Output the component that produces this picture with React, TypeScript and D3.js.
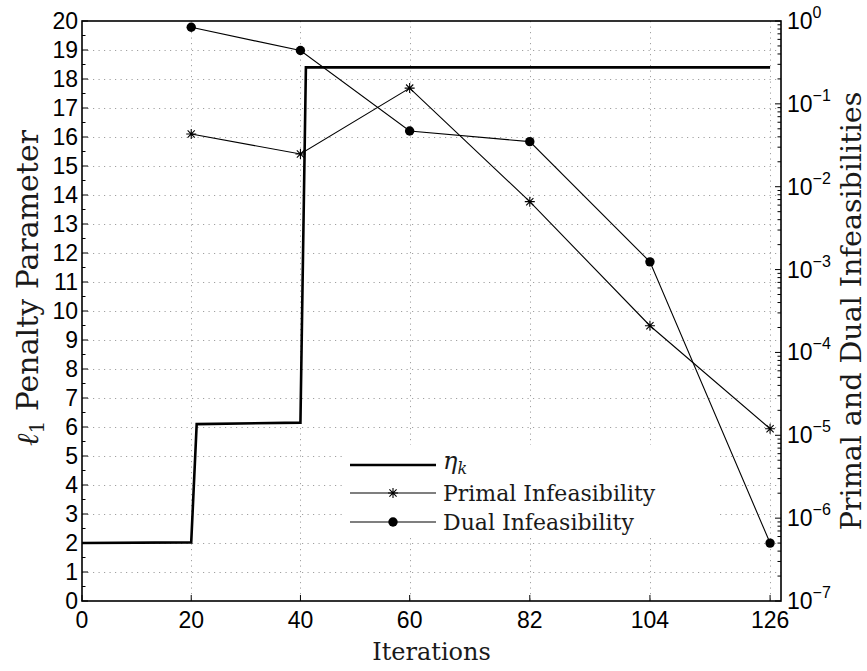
import React, { useEffect, useRef } from "react";
import * as d3 from "d3";

// x axis
const iterTicks = [0, 20, 40, 60, 82, 104, 126];
// left axis ticks
const penaltyTicks = [0, 1, 2, 3, 4, 5, 6, 7, 8, 9, 10, 11, 12, 13, 14, 15, 16, 17, 18, 19, 20];
// right axis decades (exponents)
const infeasExponents = [0, -1, -2, -3, -4, -5, -6, -7];

// eta_k step series
const etaIter = [0, 20, 21, 40, 41, 126];
const etaValue = [2.0, 2.02, 6.1, 6.15, 18.4, 18.4];

// infeasibilities (log axis)
const feasIter = [20, 40, 60, 82, 104, 126];
const primalInf = [0.0433, 0.0248, 0.155, 0.0066, 0.00021, 0.000012];
const dualInf = [0.84, 0.44, 0.047, 0.035, 0.00124, 0.0000005];

const App = () => {
  const svgRef = useRef<SVGSVGElement>(null);

  useEffect(() => {
    const width = 867, height = 671;
    const left = 82, right = 781, top = 21, bottom = 601;
    const tickFont = "'Liberation Sans', Arial, sans-serif";
    const labelFont = "'DejaVu Serif', serif";

    const svg = d3.select(svgRef.current)
      .attr("width", width)
      .attr("height", height)
      .style("background", "#fff");
    svg.selectAll("*").remove();

    const x = d3.scaleLinear().domain([0, 128]).range([left, right]);
    const yL = d3.scaleLinear().domain([0, 20]).range([bottom, top]);
    const yR = d3.scaleLog().domain([1e-7, 1]).range([bottom, top]);

    // grid
    const grid = svg.append("g")
      .attr("stroke", "#a0a0a0")
      .attr("stroke-width", 1)
      .attr("stroke-dasharray", "1.2,4.3");
    grid.selectAll("line.h")
      .data(penaltyTicks.filter(d => d > 0 && d < 20))
      .enter().append("line")
      .attr("x1", left).attr("x2", right)
      .attr("y1", d => Math.round(yL(d)) + 0.5)
      .attr("y2", d => Math.round(yL(d)) + 0.5);
    grid.selectAll("line.v")
      .data(iterTicks.filter(d => d > 0))
      .enter().append("line")
      .attr("y1", top).attr("y2", bottom)
      .attr("x1", d => Math.round(x(d)) + 0.5)
      .attr("x2", d => Math.round(x(d)) + 0.5);

    // eta line
    const eta = etaIter.map((d, i) => [d, etaValue[i]]);
    svg.append("path")
      .datum(eta)
      .attr("fill", "none")
      .attr("stroke", "#000")
      .attr("stroke-width", 2.6)
      .attr("d", d3.line<number[]>().x(d => x(d[0])).y(d => yL(d[1])));

    const primal = feasIter.map((d, i) => [d, primalInf[i]]);
    const dual = feasIter.map((d, i) => [d, dualInf[i]]);
    const logLine = d3.line<number[]>().x(d => x(d[0])).y(d => yR(d[1]));

    svg.append("path").datum(primal)
      .attr("fill", "none").attr("stroke", "#000").attr("stroke-width", 1.1)
      .attr("d", logLine);
    svg.append("path").datum(dual)
      .attr("fill", "none").attr("stroke", "#000").attr("stroke-width", 1.1)
      .attr("d", logLine);

    const star = (g, cx, cy, r) => {
      const a = r * 0.72;
      const p = `M${cx - r},${cy}H${cx + r}M${cx},${cy - r}V${cy + r}` +
        `M${cx - a},${cy - a}L${cx + a},${cy + a}M${cx - a},${cy + a}L${cx + a},${cy - a}`;
      g.append("path").attr("d", p).attr("stroke", "#000").attr("stroke-width", 1.1).attr("fill", "none");
    };

    primal.forEach(d => star(svg, x(d[0]), yR(d[1]), 5));
    svg.selectAll("circle.dual")
      .data(dual)
      .enter().append("circle")
      .attr("cx", d => x(d[0]))
      .attr("cy", d => yR(d[1]))
      .attr("r", 4.7)
      .attr("fill", "#000");

    // axes box
    const axisG = svg.append("g").attr("stroke", "#000").attr("stroke-width", 1.6);
    axisG.append("rect")
      .attr("x", left).attr("y", top)
      .attr("width", right - left).attr("height", bottom - top)
      .attr("fill", "none");

    // left ticks (inward) + minor
    penaltyTicks.forEach(d => {
      axisG.append("line").attr("x1", left).attr("x2", left + 6)
        .attr("y1", yL(d)).attr("y2", yL(d)).attr("stroke-width", 1);
      if (d < 20) {
        axisG.append("line").attr("x1", left).attr("x2", left + 3.5)
          .attr("y1", yL(d + 0.5)).attr("y2", yL(d + 0.5)).attr("stroke-width", 1);
      }
    });

    // bottom ticks
    iterTicks.forEach(d => {
      axisG.append("line").attr("x1", x(d)).attr("x2", x(d))
        .attr("y1", bottom).attr("y2", bottom - 6).attr("stroke-width", 1);
    });

    // right log ticks
    infeasExponents.forEach(e => {
      const v = Math.pow(10, e);
      axisG.append("line").attr("x1", right).attr("x2", right - 6)
        .attr("y1", yR(v)).attr("y2", yR(v)).attr("stroke-width", 1);
      if (e > -7) {
        [2, 3, 4, 5, 6, 7, 8, 9].forEach(m => {
          const mv = v * m / 10;
          axisG.append("line").attr("x1", right).attr("x2", right - 3.5)
            .attr("y1", yR(mv)).attr("y2", yR(mv)).attr("stroke-width", 1);
        });
      }
    });

    // tick labels
    svg.append("g").selectAll("text")
      .data(penaltyTicks)
      .enter().append("text")
      .attr("x", left - 4)
      .attr("y", d => yL(d))
      .attr("dy", "0.36em")
      .attr("text-anchor", "end")
      .attr("font-family", tickFont)
      .attr("font-size", 23)
      .text(d => d);

    svg.append("g").selectAll("text")
      .data(iterTicks)
      .enter().append("text")
      .attr("x", d => x(d))
      .attr("y", 628)
      .attr("text-anchor", "middle")
      .attr("font-family", tickFont)
      .attr("font-size", 23)
      .text(d => d);

    const rl = svg.append("g").selectAll("text")
      .data(infeasExponents)
      .enter().append("text")
      .attr("x", right + 6)
      .attr("y", e => yR(Math.pow(10, e)) + 8)
      .attr("font-family", tickFont)
      .attr("font-size", 23);
    rl.append("tspan").text("10");
    rl.append("tspan")
      .attr("dy", -11)
      .attr("font-size", 16)
      .text(e => (e < 0 ? "\u2212" + Math.abs(e) : String(e)));

    // axis titles
    svg.append("text")
      .attr("x", (left + right) / 2)
      .attr("y", 660)
      .attr("text-anchor", "middle")
      .attr("font-family", labelFont)
      .attr("font-size", 24)
      .attr("fill", "#1a1a1a")
      .text("Iterations");

    const yl = svg.append("text")
      .attr("transform", `translate(38,446) rotate(-90)`)
      .attr("text-anchor", "start")
      .attr("font-family", labelFont)
      .attr("font-size", 30)
      .attr("fill", "#1a1a1a");
    yl.append("tspan").attr("font-style", "italic").text("\u2113");
    yl.append("tspan").attr("font-size", 20).attr("dy", 6).text("1");
    yl.append("tspan").attr("dy", -6).text(" Penalty Parameter");

    svg.append("text")
      .attr("transform", `translate(861,${(top + bottom) / 2}) rotate(-90)`)
      .attr("text-anchor", "middle")
      .attr("font-family", labelFont)
      .attr("font-size", 28.5)
      .attr("fill", "#1a1a1a")
      .text("Primal and Dual Infeasibilities");

    // legend
    const lg = svg.append("g");
    lg.append("rect")
      .attr("x", 343).attr("y", 445)
      .attr("width", 374).attr("height", 92)
      .attr("fill", "#fff");
    const lx1 = 350, lx2 = 436, lmid = (lx1 + lx2) / 2;
    const rows = [465, 493, 522];
    lg.append("line").attr("x1", lx1).attr("x2", lx2).attr("y1", rows[0]).attr("y2", rows[0])
      .attr("stroke", "#000").attr("stroke-width", 2.6);
    lg.append("line").attr("x1", lx1).attr("x2", lx2).attr("y1", rows[1]).attr("y2", rows[1])
      .attr("stroke", "#000").attr("stroke-width", 1.1);
    star(lg, lmid, rows[1], 5);
    lg.append("line").attr("x1", lx1).attr("x2", lx2).attr("y1", rows[2]).attr("y2", rows[2])
      .attr("stroke", "#000").attr("stroke-width", 1.1);
    lg.append("circle").attr("cx", lmid).attr("cy", rows[2]).attr("r", 4.7).attr("fill", "#000");

    const eTxt = lg.append("text")
      .attr("x", 443).attr("y", rows[0] + 4)
      .attr("font-family", labelFont)
      .attr("font-size", 24)
      .attr("font-style", "italic")
      .attr("fill", "#1a1a1a");
    eTxt.append("tspan").text("\u03B7");
    eTxt.append("tspan").attr("font-size", 16).attr("dy", 5).text("k");

    lg.append("text")
      .attr("x", 443).attr("y", rows[1] + 8)
      .attr("font-family", labelFont)
      .attr("font-size", 22)
      .attr("fill", "#1a1a1a")
      .text("Primal Infeasibility");
    lg.append("text")
      .attr("x", 443).attr("y", rows[2] + 8)
      .attr("font-family", labelFont)
      .attr("font-size", 22)
      .attr("fill", "#1a1a1a")
      .text("Dual Infeasibility");
  }, []);

  return (
    <svg ref={svgRef} style={{ position: "absolute", left: 0, top: 0 }}></svg>
  );
};

export default App;
